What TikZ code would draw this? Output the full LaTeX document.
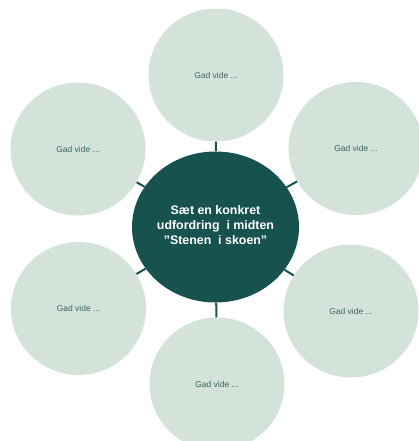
\documentclass[tikz,border=0pt]{standalone}
\usepackage{fontspec}
\setmainfont{Liberation Sans}
\usetikzlibrary{shapes.geometric}
\definecolor{darkteal}{RGB}{23,82,78}
\definecolor{lightsage}{RGB}{212,227,218}
\definecolor{softtext}{RGB}{60,100,96}
\tikzset{
  outer/.style={ellipse, fill=lightsage, minimum width=135pt, minimum height=133pt, inner sep=0pt,
    text=softtext, font=\fontsize{8.5}{10}\selectfont},
  hub/.style={ellipse, fill=darkteal, minimum width=167pt, minimum height=151pt, inner sep=0pt},
  hubtext/.style={text=white, font=\bfseries\fontsize{12.4}{15}\selectfont, align=center},
  spoke/.style={draw=darkteal, line width=2pt}
}
\begin{document}
\begin{tikzpicture}[x=1pt,y=-1pt]
\useasboundingbox (0,0) rectangle (419,441);
\node[hub] (c) at (215.5,227) {};
\node[hubtext] (ct) at (215.5,225) {Sæt en konkret\\udfordring\ \ i midten\\\symbol{34}Stenen\ \ i skoen\symbol{34}};
\node[outer] (t) at (216,75) {Gad vide ...};
\node[outer] (ur) at (356,148.5) {Gad vide ...};
\node[outer] (lr) at (351,311) {Gad vide ...};
\node[outer] (b) at (217,384) {Gad vide ...};
\node[outer] (ll) at (78.5,308.5) {Gad vide ...};
\node[outer] (ul) at (78,149) {Gad vide ...};
\foreach \n in {t,ur,lr,b,ll,ul} { \draw[spoke] (c) -- (\n); }
\end{tikzpicture}
\end{document}
